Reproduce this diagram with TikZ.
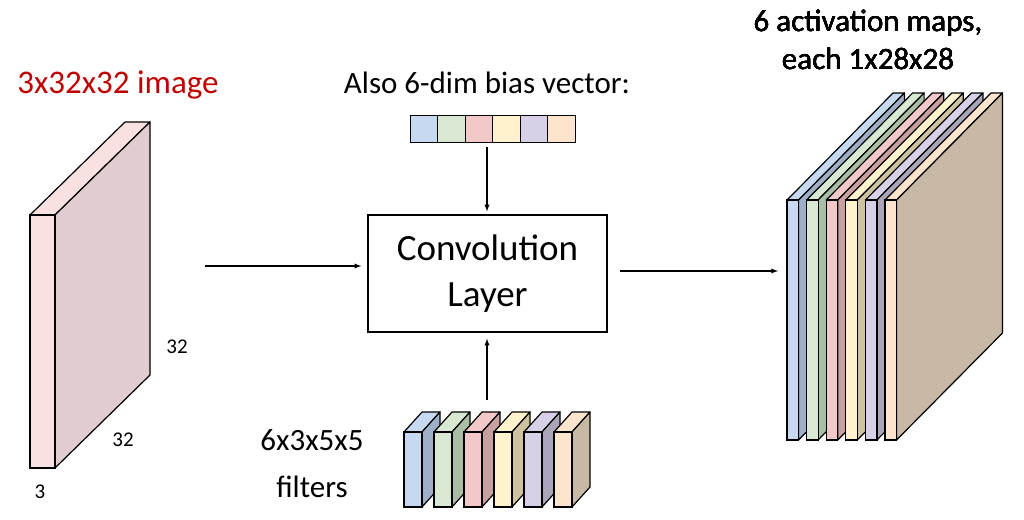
\documentclass[tikz,border=0pt]{standalone}
\usepackage{fontspec}
\setmainfont{Carlito}
\definecolor{fb}{RGB}{198,217,241}\definecolor{sb}{RGB}{160,175,200}
\definecolor{fg}{RGB}{216,232,210}\definecolor{sg}{RGB}{170,190,165}
\definecolor{fr}{RGB}{242,200,200}\definecolor{sr}{RGB}{200,160,160}
\definecolor{fy}{RGB}{255,242,204}\definecolor{sy}{RGB}{205,195,160}
\definecolor{fp}{RGB}{216,208,230}\definecolor{sp}{RGB}{170,165,185}
\definecolor{fo}{RGB}{252,228,205}\definecolor{so}{RGB}{200,185,165}
\definecolor{fi}{RGB}{250,225,225}\definecolor{si}{RGB}{225,205,207}
\definecolor{redt}{RGB}{192,0,0}
% x y w h dx dy front side
\newcommand{\mycuboid}[8]{%
  \filldraw[fill=#7,line width=1.2pt,line join=round] (#1,#2) -- ++(#5,#6) -- ++(#3,0) -- ++(-#5,-#6) -- cycle;
  \filldraw[fill=#8,line width=1.2pt,line join=round] (#1+#3,#2) -- ++(#5,#6) -- ++(0,#4) -- ++(-#5,-#6) -- cycle;
  \filldraw[fill=#7,line width=1.2pt] (#1,#2) rectangle ++(#3,#4);}
\tikzset{arr/.style={-latex,line width=1.3pt},lab/.style={font=\fontsize{21}{22}\selectfont,inner sep=0}}
\begin{document}
\begin{tikzpicture}[x=1pt,y=-1pt]
\useasboundingbox (0,0) rectangle (1024,519);
% input
\mycuboid{30}{215}{25}{253}{95}{-93}{fi}{si}
\node[font=\fontsize{33}{35}\selectfont,text=redt,inner sep=0] (imglab) at (118,85) {3x32x32 image};
\node[lab] (d1) at (177,347) {32};
\node[lab] (d2) at (123,440) {32};
\node[lab] (d3) at (40,492) {3};
% conv
\node[draw,line width=1.3pt,minimum width=239pt,minimum height=117pt,align=center,font=\fontsize{37}{46}\selectfont] (conv) at (487.5,273.5) {Convolution\\Layer};
% bias
\node[font=\fontsize{31}{33}\selectfont,inner sep=0] (biaslab) at (487,83) {Also 6-dim bias vector:};
\foreach \c [count=\i from 0] in {fb,fg,fr,fy,fp,fo}
  \filldraw[fill=\c,line width=1pt] (410+27.5*\i,115) rectangle ++(27.5,27);
\coordinate (bias) at (487,147);
% filters
\foreach \f/\s [count=\i from 0] in {fb/sb,fg/sg,fr/sr,fy/sy,fp/sp,fo/so}
  \mycuboid{404+30*\i}{432}{18}{75}{18}{-20}{\f}{\s}
\coordinate (filt) at (487,400);
\node[font=\fontsize{31}{47}\selectfont,align=center,inner sep=0] (filtlab) at (312,464) {6x3x5x5\\filters};
% maps
\foreach \f/\s [count=\i from 0] in {fb/sb,fg/sg,fr/sr,fy/sy,fp/sp,fo/so}
  \mycuboid{787+19.6*\i}{200}{11.5}{240}{106}{-107}{\f}{\s}
\node[font=\fontsize{31}{38}\selectfont,align=center,inner sep=0] (maplab) at (868,40) {6 activation maps,\\each 1x28x28};
\coordinate (in) at (205,266);
\coordinate (out) at (778,271);
\draw[arr] (in) -- ([xshift=-6pt]conv.west |- in);
\draw[arr] ([xshift=12pt]conv.east |- out) -- (out);
\draw[arr] (bias) -- ([yshift=3pt]conv.north -| bias);
\draw[arr] (filt) -- ([yshift=-6pt]conv.south -| filt);
\end{tikzpicture}
\end{document}
